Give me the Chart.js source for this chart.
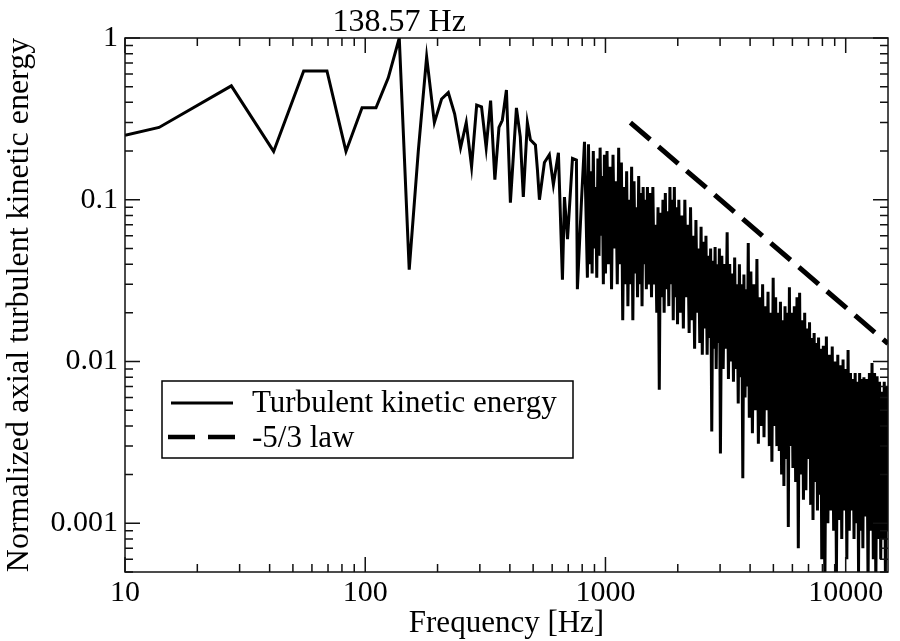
<!DOCTYPE html>
<html>
<head>
<meta charset="utf-8">
<script src="https://cdn.jsdelivr.net/npm/chart.js@4.4.1/dist/chart.umd.min.js"></script>
<style>
html, body { margin: 0; padding: 0; background: #fff; }
canvas { display: block; }
</style>
</head>
<body>
<canvas id="espectro" width="900" height="641"></canvas>
<script>
// frequencias [Hz] e energia normalizada
var freqHz = [
  10, 13.86, 27.71, 41.57, 55.43, 69.29, 83.14, 97.0, 110.86, 124.71,
  138.57, 152.43, 166.29, 180.14, 194.0, 207.86, 221.71, 235.57, 249.43, 263.29,
  277.14, 291.0, 304.86, 318.71, 332.57, 346.43, 360.29, 372, 387, 402,
  426, 442, 455, 473, 487, 511, 521, 531, 557, 584,
  607, 637, 662, 675, 695, 729, 757, 764, 795, 818,
  841, 850, 860, 870, 880, 890, 900, 910, 920, 930,
  940, 950, 960, 970, 980, 990,
  1000, 1015, 1030, 1045, 1060, 1075, 1090, 1105, 1120, 1135,
  1150, 1165, 1180, 1195, 1210, 1225, 1240, 1255, 1270, 1285,
  1300, 1315, 1330, 1345, 1360, 1375, 1390, 1405, 1420, 1435,
  1450, 1465, 1480, 1495,
  1515, 1535, 1555, 1575, 1595, 1615, 1635, 1655, 1675, 1695,
  1715, 1735, 1755, 1775, 1795, 1815, 1835, 1855, 1875, 1895,
  1915, 1935, 1955, 1975, 1995,
  2020, 2050, 2080, 2110, 2140, 2170, 2200, 2230, 2260, 2290,
  2320, 2350, 2380, 2410, 2440, 2470, 2500, 2530, 2560, 2590,
  2620, 2650, 2680, 2710, 2740, 2770, 2800, 2830, 2860, 2890,
  2920, 2950, 2980,
  3010, 3050, 3090, 3130, 3170, 3210, 3250, 3290, 3330, 3370,
  3410, 3450, 3490, 3530, 3570, 3610, 3650, 3690, 3730, 3770,
  3810, 3850, 3890, 3930, 3970,
  4030, 4090, 4150, 4210, 4270, 4330, 4390, 4450, 4510, 4570,
  4630, 4690, 4750, 4810, 4870, 4930, 4990, 5050, 5110, 5170,
  5230, 5290, 5350, 5410, 5470, 5530, 5590, 5650, 5710, 5770,
  5830, 5890, 5950,
  6030, 6110, 6190, 6270, 6350, 6430, 6510, 6590, 6670, 6750,
  6830, 6910, 6990, 7070, 7150, 7230, 7310, 7390, 7470, 7550,
  7630, 7710, 7790, 7870, 7950,
  8070, 8190, 8310, 8430, 8550, 8670, 8790, 8910, 9030, 9150,
  9270, 9390, 9510, 9630, 9750, 9870, 9990, 10110, 10230, 10350,
  10470, 10590, 10710, 10830, 10950, 11070, 11190, 11310, 11430, 11550,
  11670, 11790, 11910,
  12070, 12230, 12390, 12550, 12710, 12870, 13030, 13190, 13350, 13510,
  13670, 13830, 13990, 14150, 14310, 14470, 14630, 14790, 14950, 15000
];
var energy = [
  0.25, 0.28, 0.506, 0.199, 0.625, 0.625, 0.199, 0.37, 0.37, 0.567,
  1.0, 0.037, 0.2, 0.764, 0.30, 0.42, 0.46, 0.34, 0.21, 0.30,
  0.16, 0.385, 0.375, 0.21, 0.41, 0.133, 0.28, 0.31, 0.477, 0.096,
  0.37, 0.245, 0.104, 0.30, 0.235, 0.218, 0.153, 0.10, 0.17, 0.19,
  0.124, 0.195, 0.032, 0.104, 0.057, 0.18, 0.176, 0.028, 0.1, 0.228,
  0.033, 0.22, 0.04, 0.15, 0.035, 0.2, 0.05, 0.12, 0.033, 0.18,
  0.045, 0.21, 0.06, 0.14, 0.03, 0.19,
  0.035, 0.2, 0.04, 0.16, 0.028, 0.19, 0.05, 0.13, 0.03, 0.21,
  0.04, 0.17, 0.018, 0.12, 0.03, 0.15, 0.022, 0.1, 0.03, 0.16,
  0.018, 0.13, 0.035, 0.09, 0.025, 0.14, 0.03, 0.11, 0.022, 0.12,
  0.04, 0.1, 0.028, 0.12,
  0.03, 0.11, 0.025, 0.12, 0.03, 0.07, 0.02, 0.09, 0.0067, 0.083,
  0.025, 0.1, 0.02, 0.11, 0.028, 0.085, 0.022, 0.12, 0.03, 0.1,
  0.018, 0.12, 0.025, 0.09, 0.017,
  0.1, 0.02, 0.08, 0.016, 0.1, 0.025, 0.07, 0.015, 0.09, 0.018,
  0.06, 0.012, 0.075, 0.02, 0.05, 0.013, 0.068, 0.011, 0.055, 0.016,
  0.06, 0.011, 0.045, 0.014, 0.05, 0.0037, 0.042, 0.012, 0.051, 0.009,
  0.04, 0.013, 0.05,
  0.0027, 0.045, 0.009, 0.04, 0.012, 0.063, 0.0078, 0.04, 0.01, 0.035,
  0.0075, 0.044, 0.009, 0.03, 0.0055, 0.04, 0.008, 0.03, 0.0019, 0.0345,
  0.006, 0.028, 0.007, 0.054, 0.0045,
  0.036, 0.0036, 0.03, 0.005, 0.043, 0.0031, 0.025, 0.004, 0.03, 0.0034,
  0.022, 0.005, 0.027, 0.003, 0.02, 0.0024, 0.033, 0.004, 0.025, 0.003,
  0.02, 0.0028, 0.0234, 0.002, 0.018, 0.0017, 0.022, 0.0025, 0.02, 0.00095,
  0.0288, 0.003, 0.02,
  0.0022, 0.022, 0.0018, 0.025, 0.0007, 0.0266, 0.002, 0.018, 0.0014, 0.02,
  0.0016, 0.016, 0.0025, 0.0175, 0.0013, 0.014, 0.00105, 0.015, 0.0018, 0.013,
  0.0012, 0.0141, 0.0015, 0.012, 0.0006,
  0.0125, 0.0004, 0.0143, 0.001, 0.011, 0.0012, 0.0124, 0.0009, 0.01, 0.0005,
  0.011, 0.00105, 0.0095, 0.0008, 0.0103, 0.0012, 0.009, 0.0006, 0.0118, 0.0009,
  0.0085, 0.0012, 0.0078, 0.0008, 0.0085, 0.001, 0.0075, 0.0005, 0.0085, 0.0009,
  0.0078, 0.0007, 0.008,
  0.0011, 0.0078, 0.0004, 0.0085, 0.0009, 0.0098, 0.0006, 0.0085, 0.0004, 0.0081,
  0.0008, 0.0075, 0.0006, 0.0065, 0.0008, 0.0075, 0.0005, 0.007, 0.0009, 0.006
];
// reta da lei -5/3
var lawFreq = [1270, 15000];
var lawEnergy = [0.30, 0.0129];

var xMajorTicks = [10, 100, 1000, 10000];
var xMinorTicks = [20, 30, 40, 50, 60, 70, 80, 90, 200, 300, 400, 500, 600, 700, 800, 900,
  2000, 3000, 4000, 5000, 6000, 7000, 8000, 9000];
var yMajorTicks = [0.001, 0.01, 0.1, 1];
var yMinorTicks = [0.0005, 0.0006, 0.0007, 0.0008, 0.0009,
  0.002, 0.003, 0.004, 0.005, 0.006, 0.007, 0.008, 0.009,
  0.02, 0.03, 0.04, 0.05, 0.06, 0.07, 0.08, 0.09,
  0.2, 0.3, 0.4, 0.5, 0.6, 0.7, 0.8, 0.9];

var seriesLabels = ['Turbulent kinetic energy', '-5/3 law'];
var peakFreq = 138.57;
var peakLabel = '138.57 Hz';

var fonte = "'Liberation Serif', 'Times New Roman', serif";

function pontos(xs, ys) {
  return xs.map(function (x, i) { return {x: x, y: ys[i]}; });
}
function todosTicks(major, minor) {
  return major.concat(minor).sort(function (a, b) { return a - b; })
    .map(function (v) { return {value: v}; });
}
function ehMajor(v, lista) { return lista.indexOf(v) !== -1; }

// moldura com ticks para dentro, rotulo do pico e legenda
var moldura = {
  id: 'moldura',
  afterDatasetsDraw: function (chart) {
    var ctx = chart.ctx, a = chart.chartArea;
    var sx = chart.scales.x, sy = chart.scales.y;
    ctx.save();
    ctx.strokeStyle = '#111';
    ctx.lineWidth = 1.5;
    ctx.strokeRect(a.left, a.top, a.right - a.left, a.bottom - a.top);
    ctx.beginPath();
    sx.ticks.forEach(function (t) {
      var px = sx.getPixelForValue(t.value);
      var len = ehMajor(t.value, xMajorTicks) ? 15 : 8;
      ctx.moveTo(px, a.bottom); ctx.lineTo(px, a.bottom - len);
      ctx.moveTo(px, a.top); ctx.lineTo(px, a.top + len);
    });
    sy.ticks.forEach(function (t) {
      var py = sy.getPixelForValue(t.value);
      var len = ehMajor(t.value, yMajorTicks) ? 15 : 8;
      ctx.moveTo(a.left, py); ctx.lineTo(a.left + len, py);
      ctx.moveTo(a.right, py); ctx.lineTo(a.right - len, py);
    });
    ctx.stroke();

    ctx.fillStyle = '#000';
    ctx.font = '32px ' + fonte;
    ctx.textAlign = 'center';
    ctx.textBaseline = 'alphabetic';
    ctx.fillText(peakLabel, sx.getPixelForValue(peakFreq), a.top - 7);

    // legenda
    var x0 = a.left + 37, y0 = a.top + 343;
    ctx.fillStyle = '#fff';
    ctx.fillRect(x0, y0, 411, 77);
    ctx.strokeStyle = '#000';
    ctx.lineWidth = 1.5;
    ctx.strokeRect(x0, y0, 411, 77);
    var ds = chart.data.datasets;
    ctx.lineWidth = 2.8;
    ctx.beginPath();
    ctx.moveTo(x0 + 9, y0 + 22); ctx.lineTo(x0 + 71, y0 + 22);
    ctx.stroke();
    ctx.lineWidth = 4.5;
    ctx.setLineDash([27, 13]);
    ctx.beginPath();
    ctx.moveTo(x0 + 6, y0 + 56); ctx.lineTo(x0 + 73, y0 + 56);
    ctx.stroke();
    ctx.setLineDash([]);
    ctx.fillStyle = '#000';
    ctx.font = '31px ' + fonte;
    ctx.textAlign = 'left';
    ctx.fillText(ds[0].label, x0 + 90, y0 + 31);
    ctx.fillText(ds[1].label, x0 + 90, y0 + 66);
    ctx.restore();
  }
};

new Chart(document.getElementById('espectro'), {
  type: 'line',
  data: {
    datasets: [{
      label: seriesLabels[0],
      data: pontos(freqHz, energy),
      borderColor: '#000',
      borderWidth: 3,
      pointRadius: 0,
      tension: 0,
      fill: false,
      clip: 0
    }, {
      label: seriesLabels[1],
      data: pontos(lawFreq, lawEnergy),
      borderColor: '#000',
      borderWidth: 5,
      borderDash: [26, 11],
      pointRadius: 0,
      fill: false,
      clip: 0
    }]
  },
  options: {
    responsive: false,
    animation: false,
    devicePixelRatio: 1,
    layout: { padding: { top: 38, right: 12, bottom: 0, left: 0 } },
    plugins: {
      legend: { display: false },
      tooltip: { enabled: false }
    },
    scales: {
      x: {
        type: 'logarithmic',
        min: 10,
        max: 15000,
        afterBuildTicks: function (s) { s.ticks = todosTicks(xMajorTicks, xMinorTicks); },
        afterFit: function (s) { s.height = 69; s.paddingLeft = 0; s.paddingRight = 0; },
        grid: { display: false, drawTicks: false },
        border: { display: false },
        ticks: {
          autoSkip: false, maxRotation: 0, minRotation: 0, padding: 3, color: '#000',
          font: { family: fonte, size: 30 },
          callback: function (v) { return ehMajor(v, xMajorTicks) ? String(v) : ''; }
        },
        title: {
          display: true, text: 'Frequency [Hz]', color: '#000', padding: 0,
          font: { family: fonte, size: 31, lineHeight: 1.13 }
        }
      },
      y: {
        type: 'logarithmic',
        min: 0.0005,
        max: 1,
        afterBuildTicks: function (s) { s.ticks = todosTicks(yMajorTicks, yMinorTicks); },
        afterFit: function (s) { s.width = 125; s.paddingTop = 0; s.paddingBottom = 0; },
        grid: { display: false, drawTicks: false },
        border: { display: false },
        ticks: {
          autoSkip: false, padding: 7, color: '#000',
          font: { family: fonte, size: 30 },
          callback: function (v) { return ehMajor(v, yMajorTicks) ? String(v) : ''; }
        },
        title: {
          display: true, text: 'Normalized axial turbulent kinetic energy', color: '#000', padding: 0,
          font: { family: fonte, size: 32 }
        }
      }
    }
  },
  plugins: [moldura]
});
</script>
</body>
</html>
